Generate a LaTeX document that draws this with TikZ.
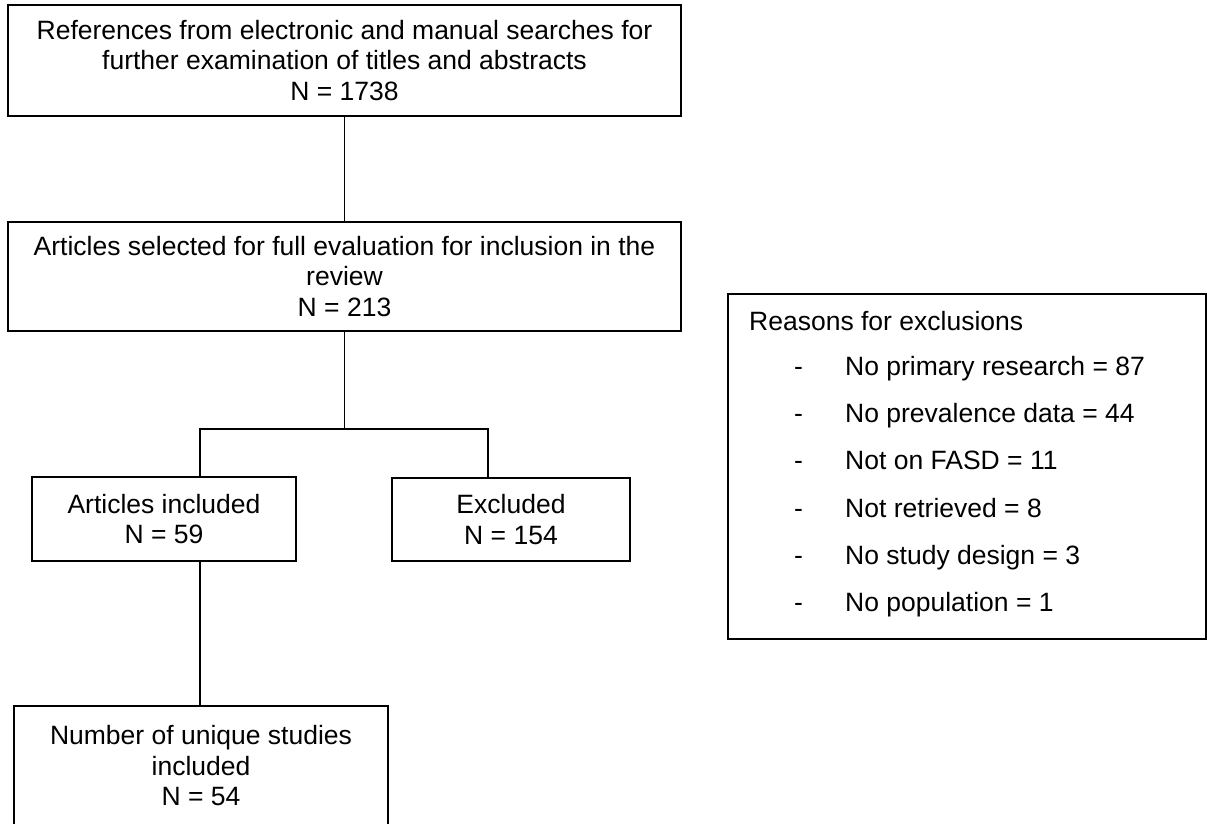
\documentclass[tikz,border=0pt]{standalone}
\usepackage{fontspec}
\setmainfont{Liberation Sans}
\begin{document}
\begin{tikzpicture}[x=1pt,y=-1pt,
  every node/.style={font=\fontsize{26.5}{30.5}\selectfont},
  flowbox/.style={draw, line width=1.5pt, align=center, inner sep=0pt},
  conn/.style={line width=1.5pt},
  reasontxt/.style={anchor=base west, inner sep=0pt}]
\useasboundingbox (0,0) rectangle (1207,823);
\clip (0,0) rectangle (1207,823);
\node[flowbox, minimum width=673pt, minimum height=111pt] (refs) at (344.5,60.5)
  {References from electronic and manual searches for\\further examination of titles and abstracts\\N = 1738};
\node[flowbox, minimum width=673pt, minimum height=109pt] (sel) at (344.5,276.5)
  {Articles selected for full evaluation for inclusion in the\\review\\N = 213};
\node[flowbox, minimum width=264pt, minimum height=84pt] (incl) at (164,519)
  {Articles included\\N = 59};
\node[flowbox, minimum width=238pt, minimum height=83pt] (excl) at (511,519.5)
  {Excluded\\N = 154};
\node[flowbox, minimum width=374pt, minimum height=120pt] (uniq) at (201,766)
  {Number of unique studies\\included\\N = 54};
\node[draw, line width=1.5pt, minimum width=478pt, minimum height=345pt, inner sep=0pt] (reasons) at (967,466.5) {};
\node[reasontxt] (rtitle) at (749,330) {Reasons for exclusions};
\foreach \yy/\txt [count=\i] in {375/{No primary research = 87},422/{No prevalence data = 44},469/{Not on FASD = 11},517/{Not retrieved = 8},564/{No study design = 3},611/{No population = 1}}{
  \node[reasontxt] (dash\i) at (794,\yy) {-};
  \node[reasontxt] (item\i) at (845,\yy) {\txt};
}
\coordinate (jc) at (344.5,429);
\coordinate (jl) at (200,429);
\coordinate (jr) at (488,429);
\draw[conn] (refs.south) -- (sel.north);
\draw[conn] (sel.south) -- (jc);
\draw[conn] (incl.north -| jl) -- (jl) -- (jr) -- (excl.north -| jr);
\draw[conn] (incl.south -| jl) -- (uniq.north -| jl);
\end{tikzpicture}
\end{document}
